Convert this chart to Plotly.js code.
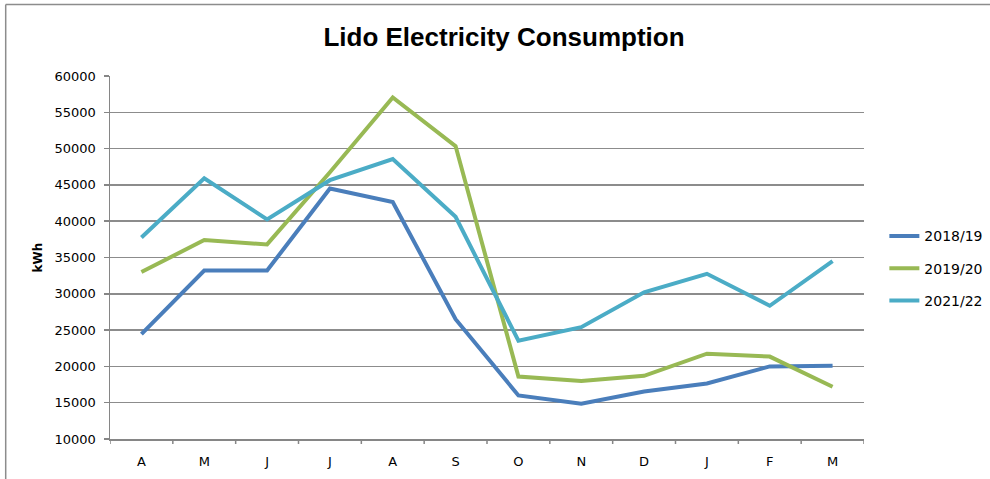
<!DOCTYPE html>
<html>
<head>
<meta charset="utf-8">
<script src="https://cdn.plot.ly/plotly-3.0.1.min.js"></script>
<style>html,body{margin:0;padding:0;background:#fff;}#chart{width:990px;height:479px;}</style>
</head>
<body>
<div id="chart"></div>
<script>
var months = ["A","M","J","J","A","S","O","N","D","J","F","M"];
var seriesNames = ["2018/19","2019/20","2021/22"];
var kwh1819 = [24450, 33200, 33200, 44500, 42650, 26500, 16000, 14850, 16550, 17650, 20000, 20100];
var kwh1920 = [33000, 37400, 36800, 46750, 57050, 50350, 18600, 18000, 18700, 21750, 21350, 17200];
var kwh2122 = [37750, 45900, 40250, 45650, 48550, 40600, 23550, 25400, 30200, 32750, 28350, 34500];
var yTicks = [10000,15000,20000,25000,30000,35000,40000,45000,50000,55000,60000];

var colors = ["#4A7EBB", "#98B954", "#4BACC6"];
var allVals = [kwh1819, kwh1920, kwh2122];
var xIdx = months.map(function(_, i){ return i; });

var traces = allVals.map(function(v, k){
  return {
    x: xIdx, y: v, type: "scatter", mode: "lines",
    name: seriesNames[k], legendgroup: "g"+k,
    line: {color: colors[k], width: 4},
    hoverinfo: "skip"
  };
});

var font = "DejaVu Sans, Verdana, sans-serif";
var layout = {
  width: 990, height: 479,
  margin: {l: 110, r: 126, t: 76, b: 40, pad: 0, autoexpand: false},
  paper_bgcolor: "#ffffff", plot_bgcolor: "#ffffff",
  showlegend: true,
  title: {text: "<b>Lido Electricity Consumption</b>", x: 504/990, xanchor: "center", xref: "container",
          y: 1 - 37/479, yanchor: "middle", yref: "container",
          font: {family: "Liberation Sans Narrow, Arial Narrow, Liberation Sans, sans-serif", size: 26, color: "#000"}},
  xaxis: {
    type: "linear", range: [-0.5, 11.5], tickmode: "array", tickvals: xIdx, ticktext: months,
    showgrid: false, zeroline: false, showline: true, linecolor: "#868686", linewidth: 1.5,
    ticks: "", tickfont: {family: font, size: 13, color: "#000"}, ticklabelstandoff: 10
  },
  yaxis: {
    range: [10000, 60000], tickmode: "array", tickvals: yTicks, ticktext: yTicks.map(String),
    showgrid: true, gridcolor: "#8c8c8c", gridwidth: 1.5, zeroline: false,
    showline: true, linecolor: "#868686", linewidth: 1.5,
    ticks: "outside", ticklen: 5, tickcolor: "#868686", tickwidth: 1.5,
    ticklabelstandoff: 5,
    tickfont: {family: font, size: 13, color: "#000"},
    title: {text: "<b>kWh</b>", font: {family: font, size: 12, color: "#000"}, standoff: 9}
  },
  legend: {
    x: 1.027, xanchor: "left", y: 0.47, yanchor: "middle",
    font: {family: font, size: 14, color: "#000"},
    traceorder: "grouped", tracegroupgap: 11, bgcolor: "rgba(0,0,0,0)", borderwidth: 0
  },
  shapes: [
    {type: "line", xref: "paper", yref: "paper", x0: (5.7-110)/754, x1: (5.7-110)/754, y0: -0.2, y1: (439-4.5)/363,
     line: {color: "#8c8c8c", width: 1.5}},
    {type: "line", xref: "paper", yref: "paper", x0: (5.7-110)/754, x1: (990-110)/754, y0: (439-4.5)/363, y1: (439-4.5)/363,
     line: {color: "#8c8c8c", width: 1.5}}
  ].concat(xIdx.concat([12]).map(function(i){
    return {type: "line", xref: "x", yref: "paper", x0: i-0.5, x1: i-0.5, y0: 0, y1: -5/363,
            line: {color: "#868686", width: 1.5}};
  }))
};

Plotly.newPlot("chart", traces, layout, {staticPlot: true, displayModeBar: false});
</script>
</body>
</html>
